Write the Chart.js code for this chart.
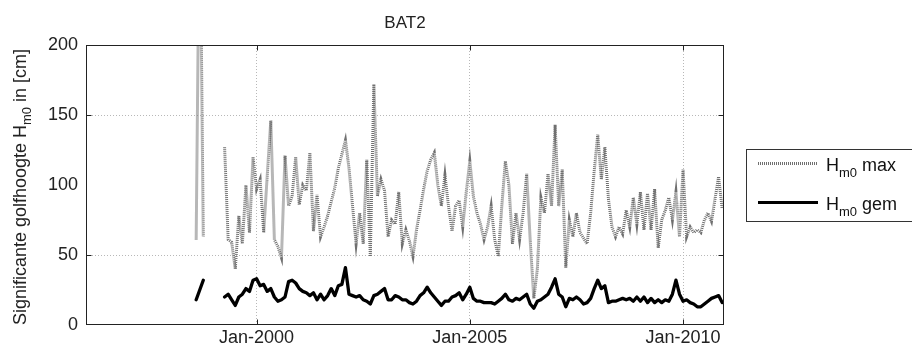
<!DOCTYPE html>
<html>
<head>
<meta charset="utf-8">
<script src="https://cdn.jsdelivr.net/npm/chart.js@4/dist/chart.umd.min.js"></script>
<style>
html,body{margin:0;padding:0;background:#fff;}
#wrap{width:912px;height:352px;position:relative;}
</style>
</head>
<body>
<div id="wrap"><canvas id="c" width="912" height="352"></canvas></div>
<script>
// ---- data ----
const chartTitle = 'BAT2';
const seriesStart = { year: 1998, month: 8 };   // first monthly value: Aug 1998
const seriesNames = ['max', 'gem'];
const hm0Max = [61, 320, 63, null, null, null, null, null,
  127,61,59,40,78,58,100,66,120,97,
  104,66,107,146,61,56,48,121,85,92,
  120,86,100,96,123,67,93,63,70,78,
  88,98,112,122,132,112,85,58,80,58,
  118,49,172,92,104,96,63,75,72,95,
  58,68,60,49,68,82,97,110,118,123,
  100,85,107,85,67,85,89,70,95,117,
  92,80,72,61,70,85,61,49,85,117,
  100,58,80,61,80,108,60,19,40,91,
  80,108,85,143,85,111,41,75,63,80,
  66,62,58,80,110,136,104,127,90,70,
  63,70,65,82,70,91,72,95,68,94,
  68,97,55,75,82,91,75,95,63,111,
  63,70,66,68,66,75,80,74,90,106,
  83];
const hm0Gem = [18, 25, 32, null, null, null, null, null,
  20,22,18,14,20,22,26,24,32,33,
  28,29,24,26,20,17,18,20,31,32,
  30,26,24,23,21,23,18,22,18,21,
  26,21,28,29,41,22,21,20,21,18,
  17,15,21,22,24,26,18,18,21,20,
  18,18,16,15,17,21,23,27,23,20,
  17,14,17,17,20,21,23,18,22,27,
  19,17,17,16,16,16,15,17,19,22,
  18,17,19,18,20,22,15,12,17,18,
  20,22,27,33,22,20,13,19,18,20,
  18,15,16,19,26,32,26,28,16,17,
  17,18,19,18,19,17,20,17,20,16,
  19,16,18,16,18,17,22,32,22,17,
  18,16,15,13,13,15,17,19,20,21,
  16];
const xTickYears = [2000, 2005, 2010];
const xTickLabels = ['Jan-2000', 'Jan-2005', 'Jan-2010'];
const yGridValues = [50, 150];
const xRange = [1996.0, 2010.96];
const yRange = [0, 200];

// ---- build points ----
function toPoints(vals) {
  return vals.map((v, i) => ({ x: seriesStart.year + (seriesStart.month - 1 + i) / 12, y: v }));
}

const FONT = "'Liberation Sans', Arial, Helvetica, sans-serif";

function measureHm0(ctx, suffix, size) {
  ctx.font = size + 'px ' + FONT;
  const wH = ctx.measureText('H').width;
  const subSize = Math.round(size * 0.72);
  ctx.font = subSize + 'px ' + FONT;
  const wS = ctx.measureText('m0').width;
  ctx.font = size + 'px ' + FONT;
  const wT = ctx.measureText(suffix).width;
  return { wH, wS, wT, subSize, total: wH + wS + wT };
}

const decor = {
  id: 'decor',
  afterDraw(chart) {
    const { ctx, chartArea: a, scales: { x, y } } = chart;
    ctx.save();
    ctx.strokeStyle = '#222';
    ctx.lineWidth = 1;
    const L = Math.round(a.left) + 0.5, R = Math.round(a.right) - 0.5;
    const T = Math.round(a.top) + 0.5, B = Math.round(a.bottom) - 0.5;
    ctx.strokeRect(L, T, R - L, B - T);
    ctx.beginPath();
    xTickYears.forEach(v => {
      const px = Math.round(x.getPixelForValue(v)) + 0.5;
      ctx.moveTo(px, T); ctx.lineTo(px, T + 5);
      ctx.moveTo(px, B); ctx.lineTo(px, B - 5);
    });
    yGridValues.forEach(v => {
      const py = Math.round(y.getPixelForValue(v)) + 0.5;
      ctx.moveTo(L, py); ctx.lineTo(L + 5, py);
      ctx.moveTo(R, py); ctx.lineTo(R - 5, py);
    });
    ctx.stroke();

    // title
    ctx.fillStyle = '#222';
    ctx.font = '17px ' + FONT;
    ctx.textAlign = 'center';
    ctx.textBaseline = 'alphabetic';
    ctx.fillText(chartTitle, (a.left + a.right) / 2, 28);

    // y-axis title with subscript
    ctx.textAlign = 'left';
    const size = 18;
    const m = measureHm0(ctx, ' in [cm]', size);
    ctx.font = size + 'px ' + FONT;
    const pre = 'Significante golfhoogte ';
    const wPre = ctx.measureText(pre).width;
    const total = wPre + m.total;
    ctx.save();
    ctx.translate(26, (a.top + a.bottom) / 2 + 2);
    ctx.rotate(-Math.PI / 2);
    let cx = -total / 2;
    ctx.fillText(pre + 'H', cx, 0);
    cx += wPre + m.wH;
    ctx.font = m.subSize + 'px ' + FONT;
    ctx.fillText('m0', cx, 5);
    cx += m.wS;
    ctx.font = size + 'px ' + FONT;
    ctx.fillText(' in [cm]', cx, 0);
    ctx.restore();

    // legend
    ctx.strokeStyle = '#333';
    ctx.lineWidth = 1;
    ctx.strokeRect(746.5, 149.5, 200, 72);
    const rows = [
      { y: 163, ds: chart.data.datasets[0], suffix: ' ' + seriesNames[0] },
      { y: 202, ds: chart.data.datasets[1], suffix: ' ' + seriesNames[1] }
    ];
    rows.forEach(r => {
      ctx.save();
      ctx.strokeStyle = r.ds.borderColor;
      ctx.lineWidth = Math.min(r.ds.borderWidth, 3);
      ctx.setLineDash(r.ds.borderDash || []);
      ctx.beginPath();
      ctx.moveTo(758, r.y + 0.5); ctx.lineTo(818, r.y + 0.5);
      ctx.stroke();
      ctx.restore();
      const mm = measureHm0(ctx, r.suffix, 18);
      let tx = 826;
      ctx.fillStyle = '#111';
      ctx.font = '18px ' + FONT;
      ctx.fillText('H', tx, r.y + 8);
      tx += mm.wH;
      ctx.font = mm.subSize + 'px ' + FONT;
      ctx.fillText('m0', tx, r.y + 14);
      tx += mm.wS;
      ctx.font = '18px ' + FONT;
      ctx.fillText(r.suffix, tx, r.y + 8);
    });
    ctx.restore();
  }
};

new Chart(document.getElementById('c'), {
  type: 'line',
  data: {
    datasets: [
      {
        label: 'Hm0 max',
        data: toPoints(hm0Max),
        borderColor: '#707070',
        borderWidth: 3,
        borderDash: [1, 1],
        pointRadius: 0,
        tension: 0,
        spanGaps: false
      },
      {
        label: 'Hm0 gem',
        data: toPoints(hm0Gem),
        borderColor: '#000000',
        borderWidth: 3.3,
        borderJoinStyle: 'round',
        borderCapStyle: 'round',
        pointRadius: 0,
        tension: 0,
        spanGaps: false
      }
    ]
  },
  options: {
    responsive: false,
    animation: false,
    events: [],
    layout: { padding: { top: 45, right: 188, left: 0, bottom: 0 } },
    plugins: { legend: { display: false }, tooltip: { enabled: false }, title: { display: false } },
    scales: {
      x: {
        type: 'linear',
        min: xRange[0],
        max: xRange[1],
        afterBuildTicks: s => { s.ticks = xTickYears.map(v => ({ value: v })); },
        afterFit: s => { s.height = 27; },
        ticks: {
          autoSkip: false,
          maxRotation: 0,
          padding: 2,
          color: '#222',
          font: { family: FONT, size: 18 },
          callback: (v, i) => xTickLabels[i]
        },
        grid: { color: '#b8b8b8', lineWidth: 1, drawTicks: false },
        border: { display: false, dash: [1, 2] }
      },
      y: {
        min: yRange[0],
        max: yRange[1],
        afterFit: s => { s.width = 86; },
        ticks: {
          stepSize: 50,
          padding: 8,
          color: '#222',
          font: { family: FONT, size: 18 }
        },
        grid: {
          color: c => yGridValues.includes(c.tick.value) ? '#b8b8b8' : 'rgba(0,0,0,0)',
          lineWidth: 1,
          drawTicks: false
        },
        border: { display: false, dash: [1, 2] }
      }
    }
  },
  plugins: [decor]
});
</script>
</body>
</html>
